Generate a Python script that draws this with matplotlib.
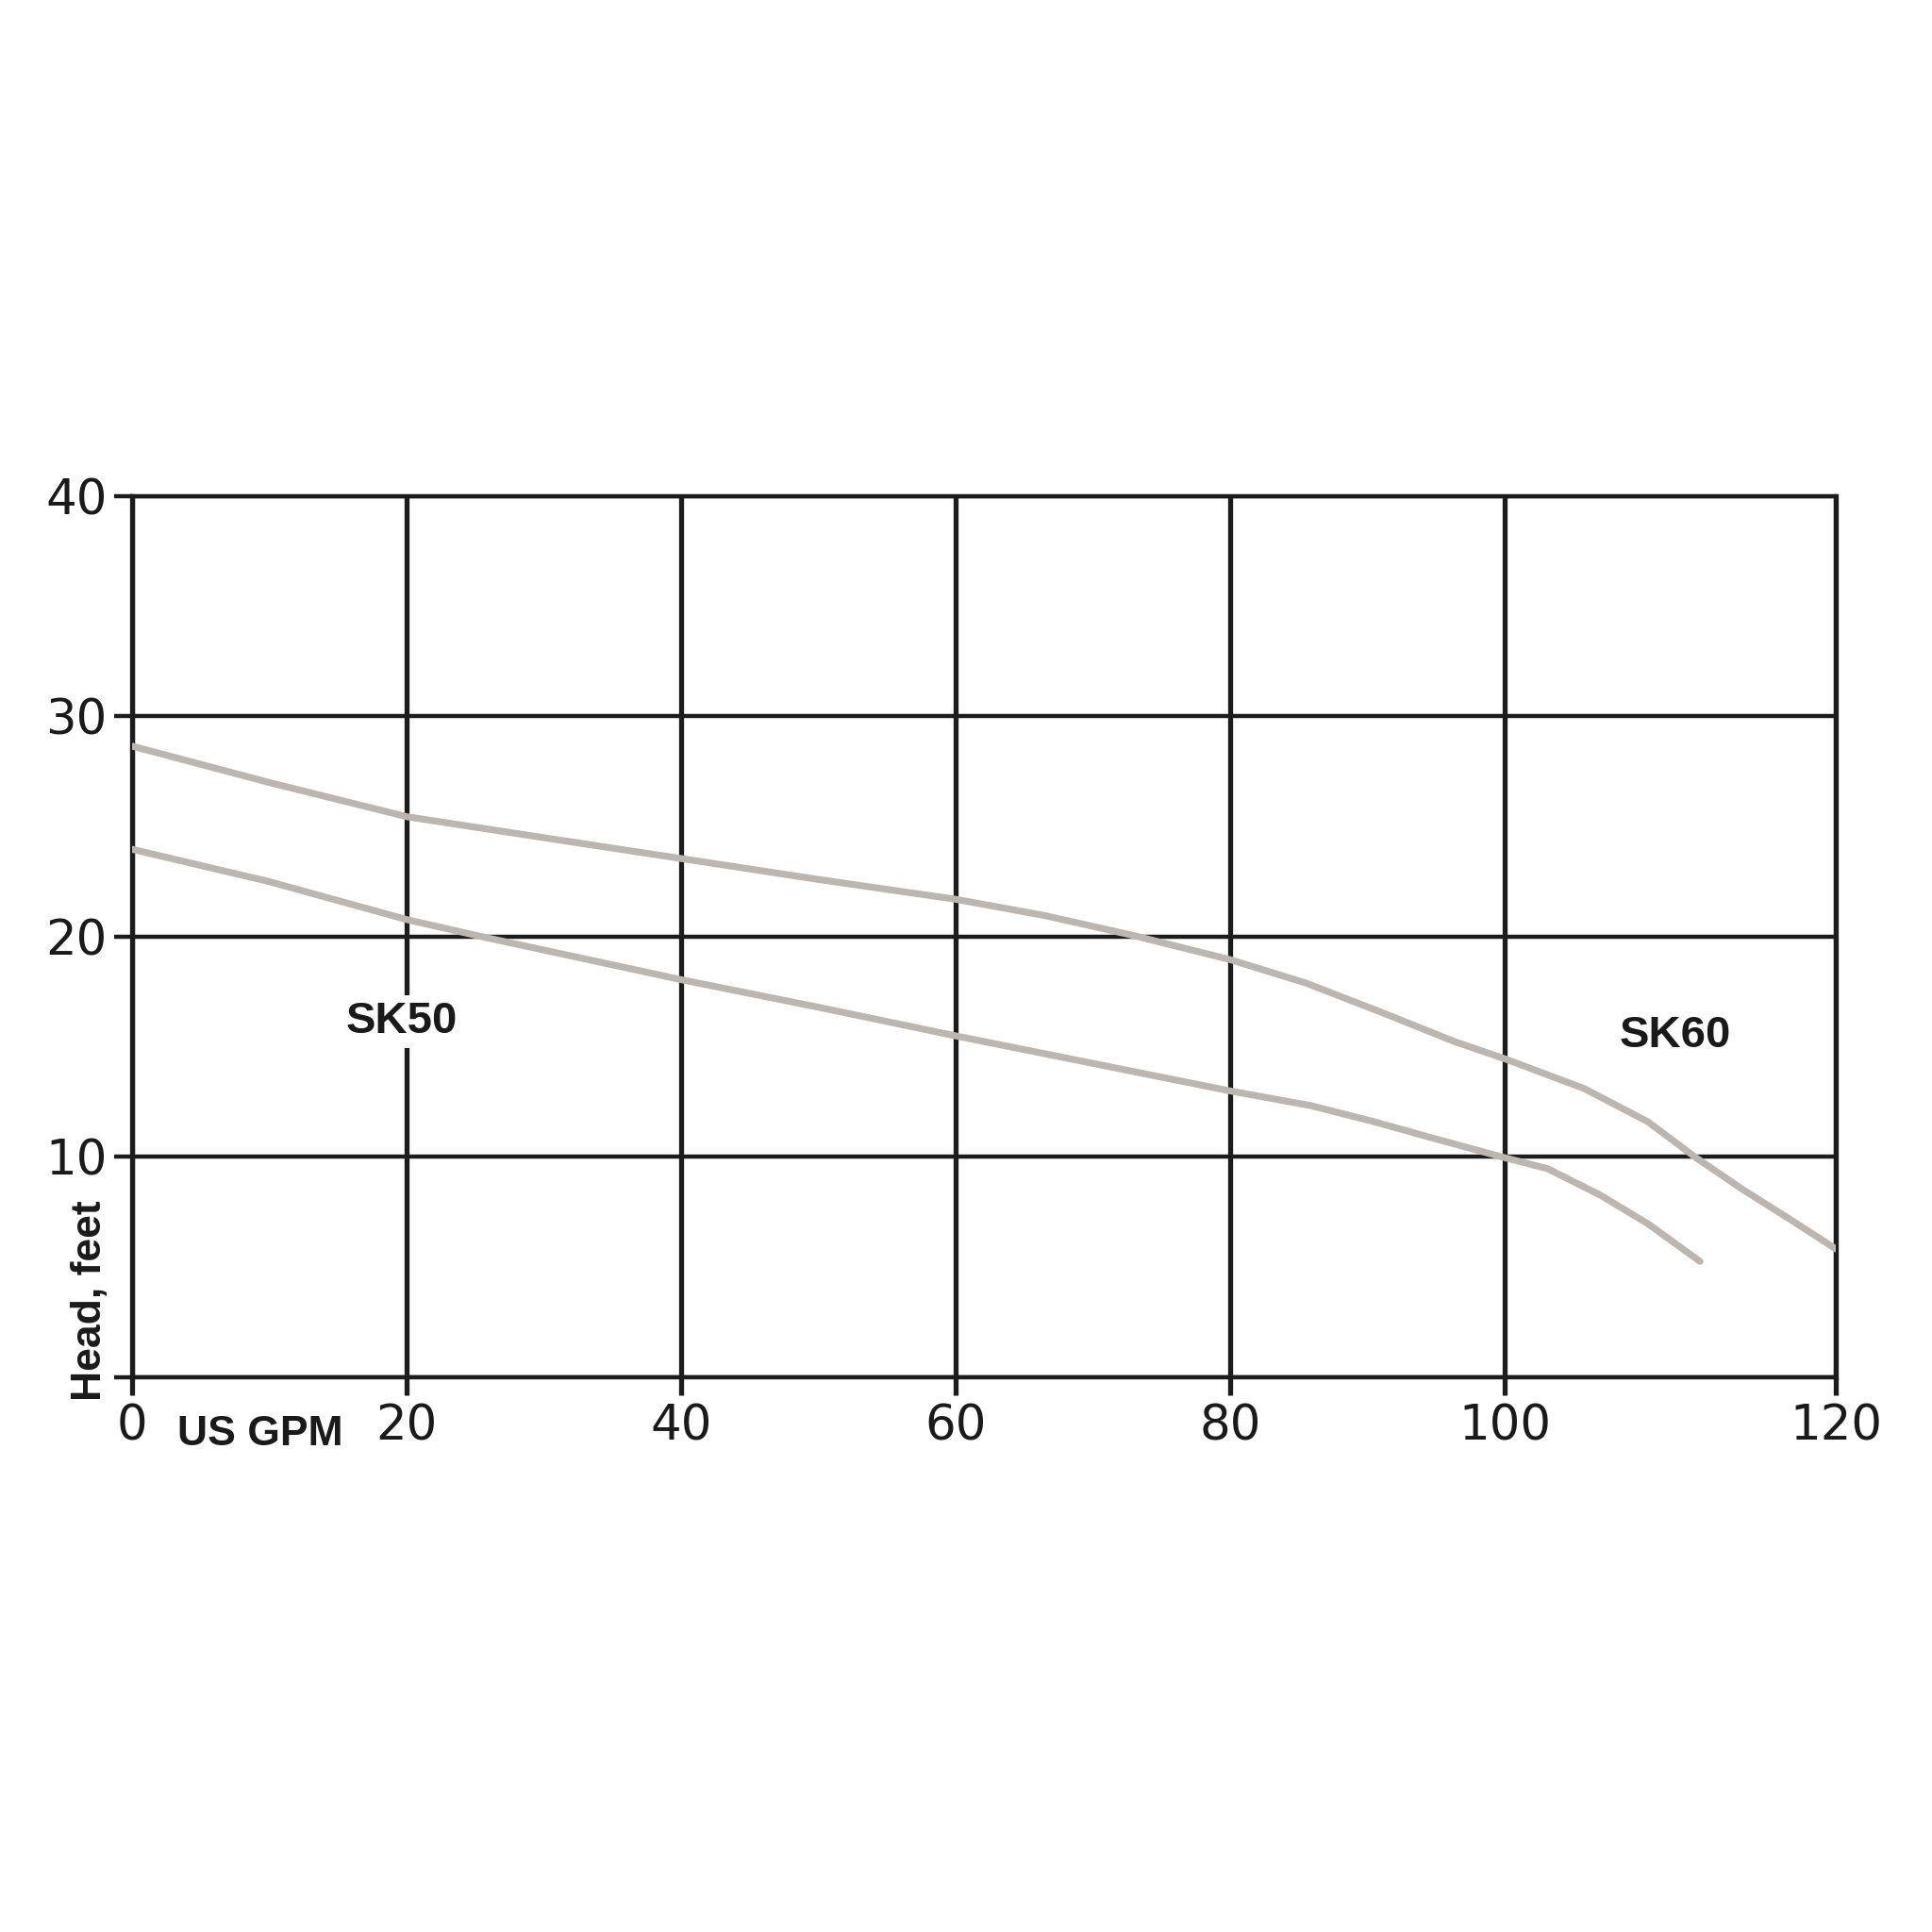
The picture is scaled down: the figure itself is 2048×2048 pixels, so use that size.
import numpy as np
import matplotlib
matplotlib.use("Agg")
import matplotlib.pyplot as plt

# pump curves (flow in US GPM, head in feet)
sk50_gpm = [0, 10, 20, 25.5, 40, 50, 60, 70, 80, 85.9, 90.5, 95.1, 100, 102.6, 105.8, 108.65, 111.8]
sk50_head = [23.97, 22.5, 20.78, 20.0, 18.05, 16.8, 15.5, 14.25, 13.0, 12.33, 11.6, 10.8, 9.97, 9.47, 8.26, 6.97, 5.26]

sk60_gpm = [0, 10, 20, 31, 40, 50, 60, 66.5, 73, 80, 85.5, 90.9, 96.3, 100,
            104.8, 108.65, 111.5, 114.35, 117.2, 120]
sk60_head = [28.65, 27.0, 25.45, 24.4, 23.55, 22.6, 21.7, 20.96, 20.05, 18.96, 17.9, 16.6, 15.25, 14.46,
             13.11, 11.6, 10.0, 8.54, 7.19, 5.83]

x_ticks = [0, 20, 40, 60, 80, 100, 120]
y_ticks = [0, 10, 20, 30, 40]
y_tick_labels = ['', '10', '20', '30', '40']

# the last column (100-120) is drawn wider than the others in the original
stretch = 1.206


def fwd(x):
    x = np.asarray(x, dtype=float)
    return np.where(x <= 100, x, 100 + (x - 100) * stretch)


def inv(x):
    x = np.asarray(x, dtype=float)
    return np.where(x <= 100, x, 100 + (x - 100) / stretch)


label_font = ['Liberation Sans', 'DejaVu Sans']
grid_col = '#1c1c1c'
curve_col = '#bdb5b0'
text_col = '#1a1a1a'

fig = plt.figure(figsize=(20.48, 20.48), dpi=100)
ax = fig.add_axes([0.0684, 0.2871, 0.8818, 0.4561])

ax.set_xscale('function', functions=(fwd, inv))
ax.set_xlim(0, 120)
ax.set_ylim(0, 40)
ax.set_xticks(x_ticks)
ax.set_yticks(y_ticks)
ax.set_xticklabels([str(v) for v in x_ticks])
ax.set_yticklabels(y_tick_labels)

# grid
ax.set_axisbelow(True)
ax.xaxis.grid(True, color=grid_col, linewidth=3.8)
ax.yaxis.grid(True, color=grid_col, linewidth=3.2)
for s in ['left', 'right']:
    ax.spines[s].set_linewidth(3.8)
    ax.spines[s].set_color(grid_col)
for s in ['top', 'bottom']:
    ax.spines[s].set_linewidth(3.2)
    ax.spines[s].set_color(grid_col)

ax.tick_params(axis='x', length=14, width=3.8, color=grid_col, pad=6,
               labelsize=37, labelcolor=text_col)
ax.tick_params(axis='y', length=14, width=3.2, color=grid_col, pad=5,
               labelsize=37, labelcolor=text_col)

# curves
ax.plot(sk60_gpm, sk60_head, color=curve_col, linewidth=5.2,
        solid_capstyle='round', solid_joinstyle='round', zorder=3)
ax.plot(sk50_gpm, sk50_head, color=curve_col, linewidth=5.2,
        solid_capstyle='round', solid_joinstyle='round', zorder=3)

ax.text(19.66, 15.63, 'SK50', ha='center', va='baseline', fontsize=34,
        fontweight='bold', family=label_font, color=text_col, zorder=4,
        bbox=dict(facecolor='white', edgecolor='none', pad=4))
ax.text(110.3, 15.0, 'SK60', ha='center', va='baseline', fontsize=34,
        fontweight='bold', family=label_font, color=text_col, zorder=4)

# axis titles
fig.text(0.1349, 0.2521, 'US GPM', ha='center', va='baseline', fontsize=32,
         fontweight='bold', family=label_font, color=text_col)
fig.text(0.0523, 0.3267, 'Head, feet', ha='center', va='baseline', rotation=90,
         rotation_mode='anchor', fontsize=32, fontweight='bold',
         family=label_font, color=text_col)

fig.savefig('out.png', dpi=100, facecolor='white')
